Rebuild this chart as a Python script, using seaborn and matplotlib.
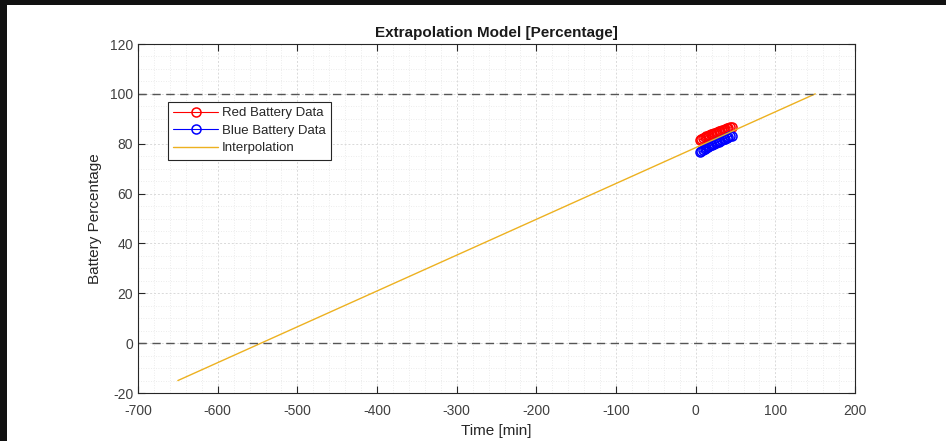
import numpy as np
import matplotlib
matplotlib.use('Agg')
import matplotlib.pyplot as plt
import seaborn as sns
from matplotlib.patches import Rectangle
from matplotlib.ticker import MultipleLocator

# Measured battery data (time in minutes, percentage)
time_min = [5, 7, 9, 11, 13, 15, 17, 19, 21, 23, 25, 27, 29, 31, 33, 35, 37, 39, 41, 43, 45]
red_pct = [81.5, 82.0, 82.3, 82.6, 83.0, 83.2, 83.5, 83.8, 84.0, 84.3, 84.5,
           84.8, 85.0, 85.2, 85.5, 85.7, 86.0, 86.2, 86.4, 86.6, 86.8]
blue_pct = [76.5, 77.0, 77.6, 78.0, 78.4, 78.7, 79.0, 79.3, 79.6, 80.0, 80.3,
            80.5, 80.8, 81.1, 81.4, 81.7, 82.0, 82.3, 82.6, 82.9, 83.2]

# Interpolation line endpoints
interp_t = [-650, 150]
interp_pct = [-15, 100]

sns.set_style('ticks')
plt.rcParams['font.family'] = ['Liberation Sans', 'DejaVu Sans']
plt.rcParams['axes.unicode_minus'] = False

fig = plt.figure(figsize=(9.46, 4.41), dpi=100)
fig.patch.set_facecolor('#111111')
fig.add_artist(Rectangle((7 / 946, 0), 1, 436 / 441, transform=fig.transFigure,
                         facecolor='white', edgecolor='none', zorder=-10))

ax = fig.add_axes([0.1459, 0.1088, 0.758, 0.7914])
ax.set_facecolor('white')

sns.lineplot(x=time_min, y=red_pct, ax=ax, color='red', marker='o', markersize=6.5,
             markerfacecolor='none', markeredgecolor='red', markeredgewidth=1.1,
             linewidth=0.8, label='Red Battery Data', sort=False)
sns.lineplot(x=time_min, y=blue_pct, ax=ax, color='blue', marker='o', markersize=6.5,
             markerfacecolor='none', markeredgecolor='blue', markeredgewidth=1.1,
             linewidth=0.8, label='Blue Battery Data', sort=False)
sns.lineplot(x=interp_t, y=interp_pct, ax=ax, color='#EDB120', linewidth=1,
             label='Interpolation')

ax.axhline(100, color='#555555', linestyle=(0, (6, 4)), linewidth=1)
ax.axhline(0, color='#555555', linestyle=(0, (6, 4)), linewidth=1)

ax.set_xlim(-700, 200)
ax.set_ylim(-20, 120)
ax.xaxis.set_major_locator(MultipleLocator(100))
ax.xaxis.set_minor_locator(MultipleLocator(20))
ax.yaxis.set_major_locator(MultipleLocator(20))
ax.yaxis.set_minor_locator(MultipleLocator(5))

ax.grid(which='major', color='#d9d9d9', linestyle=(0, (2, 2)), linewidth=0.7)
ax.grid(which='minor', color='#e6e6e6', linestyle=(0, (1, 2)), linewidth=0.6)
ax.set_axisbelow(True)

for s in ax.spines.values():
    s.set_visible(True)
    s.set_color('#262626')
    s.set_linewidth(0.8)
ax.tick_params(which='major', direction='in', length=5, top=True, right=True,
               labelsize=10, colors='#262626', labelcolor='#404040')
ax.tick_params(axis='x', which='major', pad=8)
ax.tick_params(which='minor', length=0)

ax.set_title('Extrapolation Model [Percentage]', fontsize=11, fontweight='bold',
             color='#1a1a1a', pad=5)
ax.set_xlabel('Time [min]', fontsize=11, color='#262626', labelpad=4)
ax.set_ylabel('Battery Percentage', fontsize=11, color='#262626', labelpad=6)

leg = ax.legend(loc='upper left', bbox_to_anchor=(0.042, 0.834), borderaxespad=0,
                fontsize=9.5, frameon=True, fancybox=False, edgecolor='#262626',
                framealpha=1, handlelength=3.4, borderpad=0.4, labelspacing=0.4,
                handletextpad=0.3)
leg.get_frame().set_linewidth(0.8)

fig.savefig('out.png', dpi=100, facecolor=fig.get_facecolor())
